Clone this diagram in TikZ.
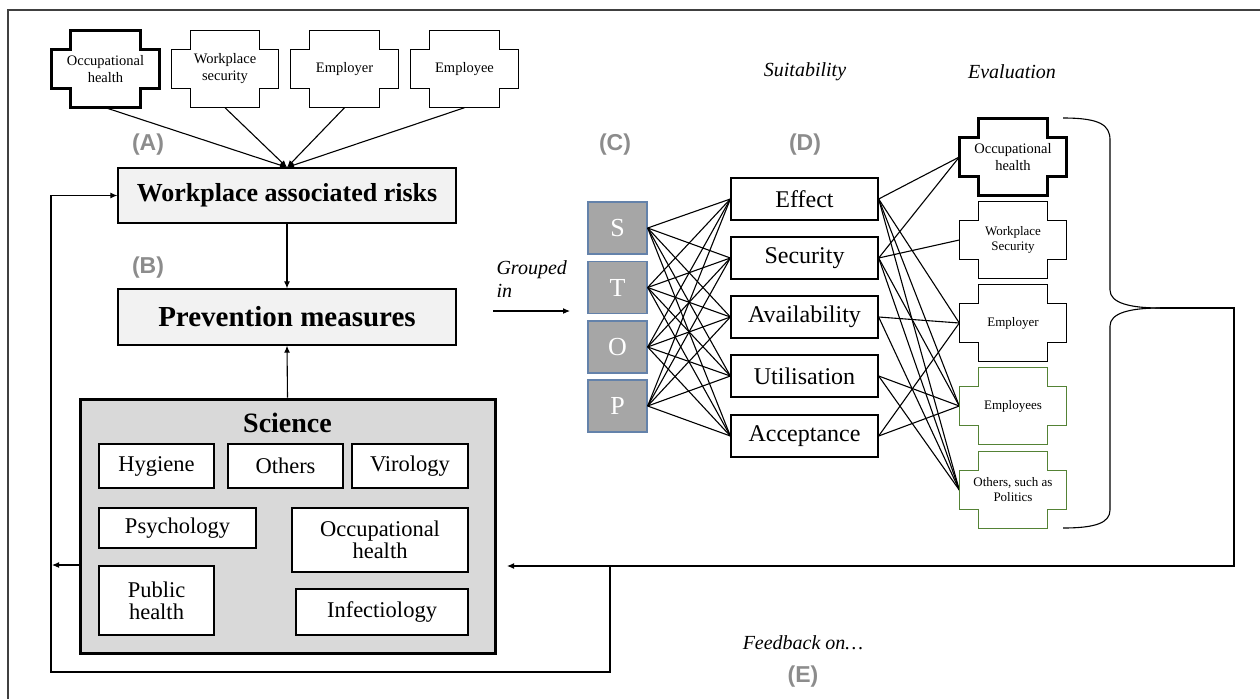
\documentclass[tikz,border=0pt]{standalone}
\usepackage{fontspec}
\setmainfont{Liberation Serif}
\newfontfamily\labfont{Liberation Sans}
\usetikzlibrary{calc,arrows.meta}
\definecolor{stopgray}{RGB}{166,166,166}
\definecolor{stopblue}{RGB}{100,130,170}
\definecolor{labgray}{RGB}{140,140,140}
\definecolor{boxgray}{RGB}{242,242,242}
\definecolor{scigray}{RGB}{217,217,217}
\definecolor{evgreen}{RGB}{84,130,53}
\newcommand\crossdraw[2]{%
  \draw[#1] let \p1=(#2.north west), \p2=(#2.south east) in
   (\x1+19pt,\y1) -- (\x2-19pt,\y1) -- (\x2-19pt,\y1-19pt) -- (\x2,\y1-19pt) -- (\x2,\y2+19pt) -- (\x2-19pt,\y2+19pt) -- (\x2-19pt,\y2) -- (\x1+19pt,\y2) -- (\x1+19pt,\y2+19pt) -- (\x1,\y2+19pt) -- (\x1,\y1-19pt) -- (\x1+19pt,\y1-19pt) -- cycle;}
\begin{document}
\begin{tikzpicture}[x=1pt,y=-1pt,
  ln/.style={line width=1.1pt, draw=black},
  arr/.style={ln, -{Latex[length=7pt,width=6pt]}},
  bigbox/.style={draw, line width=1.3pt, fill=boxgray, minimum width=338pt, inner sep=0pt},
  sciin/.style={draw, line width=1.3pt, fill=white, inner sep=0pt, align=center, font=\fontsize{22.5}{24}\selectfont},
  dbox/.style={draw, line width=1.3pt, fill=white, minimum width=147pt, minimum height=42pt, inner sep=0pt, font=\fontsize{24}{26}\selectfont},
  stopbox/.style={draw=stopblue, line width=1.3pt, fill=stopgray, minimum width=59pt, minimum height=52pt, inner sep=0pt, text=white, font=\fontsize{26}{28}\selectfont},
  crossn/.style={minimum width=107pt, minimum height=77pt, inner sep=0pt, align=center, font=\fontsize{14.5}{17}\selectfont},
  crossm/.style={crossn, font=\fontsize{13}{15}\selectfont},
  lab/.style={font=\labfont\bfseries\fontsize{23}{26}\selectfont, text=labgray},
  itl/.style={font=\itshape\fontsize{20}{23}\selectfont},
  crossthin/.style={line width=1.3pt, fill=white},
  crossthick/.style={line width=3pt, fill=white},
  crossgreen/.style={line width=1.3pt, draw=evgreen, fill=white}]
\useasboundingbox (0,0) rectangle (1260,699);
% frame
\draw[line width=1.5pt, draw=black!75] (8,699) -- (8,10) -- (1260,10);

% top crosses
\node[crossn] (c1) at (105.5,69) {};
\node[crossn] (c2) at (225,69) {};
\node[crossn] (c3) at (344.5,69) {};
\node[crossn] (c4) at (464.5,69) {};
\crossdraw{crossthick}{c1}
\crossdraw{crossthin}{c2}
\crossdraw{crossthin}{c3}
\crossdraw{crossthin}{c4}
\node[crossn] at (c1) {Occupational\\health};
\node[crossn] at (c2) {Workplace\\security};
\node[crossn] at (c3) {Employer};
\node[crossn] at (c4) {Employee};

% left column
\node[bigbox, minimum height=55pt, font=\bfseries\fontsize{26}{28}\selectfont] (war) at (287,195.5) {Workplace associated risks};
\node[bigbox, minimum height=56pt, font=\bfseries\fontsize{29}{31}\selectfont] (pm) at (287,317) {Prevention measures};
\node[lab] (la) at (148,145) {(A)};
\node[lab] (lb) at (148,268) {(B)};

\foreach \c in {c1,c2,c3,c4} \draw[arr] (\c.south) -- (war.north);
\draw[arr] (war.south) -- (pm.north);

% science
\node[draw, line width=3pt, fill=scigray, minimum width=415pt, minimum height=254pt, inner sep=0pt] (sci) at (287.5,526) {};
\node[font=\bfseries\fontsize{28}{30}\selectfont] (scit) at (287.5,423) {Science};
\node[sciin, minimum width=115pt, minimum height=44pt] (hyg) at (156.5,466) {Hygiene};
\node[sciin, minimum width=115pt, minimum height=44pt] (oth) at (285.5,466) {Others};
\node[sciin, minimum width=116pt, minimum height=44pt] (vir) at (410,466) {Virology};
\node[sciin, minimum width=157pt, minimum height=40pt] (psy) at (177.5,528) {Psychology};
\node[sciin, line width=2.8pt, minimum width=176pt, minimum height=64pt] (occ) at (380,540) {Occupational\\[-2pt]health};
\node[sciin, minimum width=115pt, minimum height=69pt] (pub) at (156.5,600.5) {Public\\[-2pt]health};
\node[sciin, minimum width=172pt, minimum height=46pt] (inf) at (382,612) {Infectiology};
\draw[arr] (sci.north) -- (pm.south);

% STOP
\node[lab] (lc) at (615,145) {(C)};
\node[lab] (ld) at (805,145) {(D)};
\node[itl] (suit) at (805,72) {Suitability};
\node[itl] (eval) at (1012,72) {Evaluation};
\node[stopbox] (s) at (617.5,228) {S};
\node[stopbox] (t) at (617.5,287.5) {T};
\node[stopbox] (o) at (617.5,347) {O};
\node[stopbox] (p) at (617.5,406) {P};
\node[dbox] (eff) at (804.5,199) {Effect};
\node[dbox] (sec) at (804.5,258) {Security};
\node[dbox] (ava) at (804.5,317) {Availability};
\node[dbox] (uti) at (804.5,376) {Utilisation};
\node[dbox] (acc) at (804.5,436) {Acceptance};
\foreach \a in {s,t,o,p} \foreach \b in {eff,sec,ava,uti,acc} \draw[ln] (\a.east) -- (\b.west);

\node[itl, align=left, anchor=west] (grp) at (493,279) {Grouped\\in};
\coordinate (g1) at (493,311);
\coordinate (g2) at (570,311);
\draw[arr] (g1) -- (g2);

% evaluation crosses
\node[crossn] (e1) at (1013,157) {};
\node[crossm] (e2) at (1013,240) {};
\node[crossm] (e3) at (1013,323) {};
\node[crossm] (e4) at (1013,406) {};
\node[crossm] (e5) at (1013,490) {};
\foreach \a/\b in {eff/e1,eff/e3,eff/e4,eff/e5,sec/e1,sec/e2,sec/e4,sec/e5,ava/e3,ava/e5,uti/e4,uti/e5,acc/e3,acc/e4}
  \draw[ln] (\a.east) -- (\b.west);
\crossdraw{crossthick}{e1}
\crossdraw{crossthin}{e2}
\crossdraw{crossthin}{e3}
\crossdraw{crossgreen}{e4}
\crossdraw{crossgreen}{e5}
\node[crossn] at (e1) {Occupational\\health};
\node[crossm] at (e2) {Workplace\\Security};
\node[crossm] at (e3) {Employer};
\node[crossm] at (e4) {Employees};
\node[crossm] at (e5) {Others, such as\\Politics};

% brace
\coordinate (bt) at (1063,118);
\coordinate (bm) at (1160,308);
\coordinate (bb) at (1063,528);
\draw[ln] (bt) .. controls (1100,118) and (1110,125) .. (1110,140) -- (1110,290) .. controls (1110,303) and (1130,308) .. (bm);
\draw[ln] (bm) .. controls (1130,308) and (1110,313) .. (1110,326) -- (1110,510) .. controls (1110,523) and (1095,528) .. (bb);

% feedback
\coordinate (fbR) at (1234,566);
\coordinate (fbT) at (507,566);
\coordinate (fbJ) at (610,566);
\coordinate (fbB) at (610,672);
\coordinate (fbL) at (51,672);
\coordinate (sciL) at (80,565);
\coordinate (sciA) at (52,565);
\draw[arr] (bm) -- (1234,308) -- (fbR) -- (fbT);
\draw[arr] (fbJ) -- (fbB) -- (fbL) |- (war.west);
\draw[arr] (sciL) -- (sciA);
\node[itl] (fb) at (803,643) {Feedback on…};
\node[lab] (le) at (803,677) {(E)};
\end{tikzpicture}
\end{document}
